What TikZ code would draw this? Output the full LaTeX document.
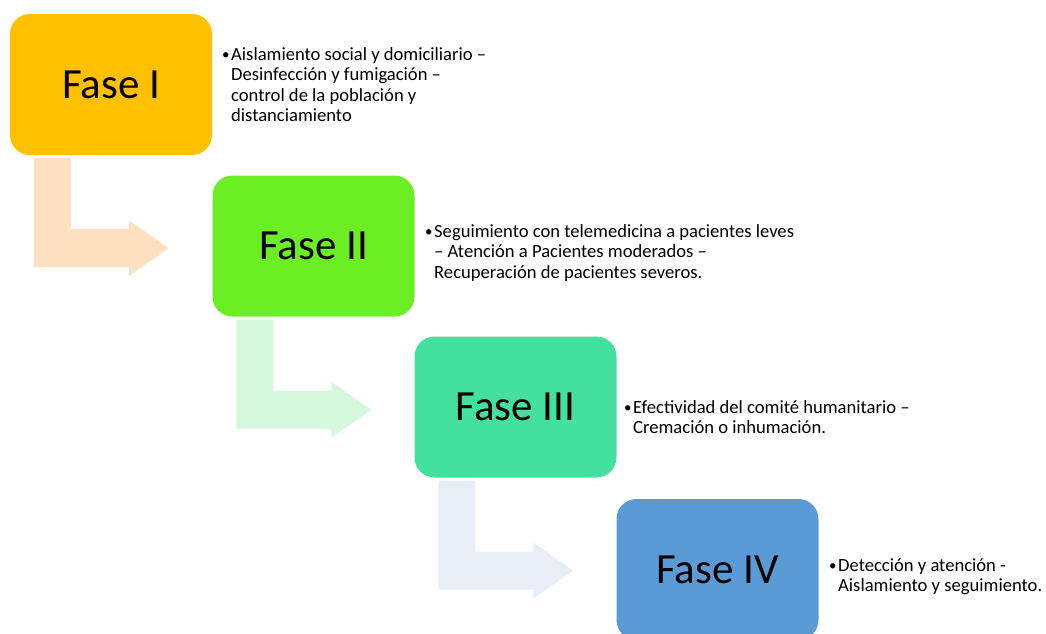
\documentclass[tikz,border=0pt]{standalone}
\usepackage{fontspec}
\setmainfont{Carlito}
\usetikzlibrary{calc}
\definecolor{cA}{HTML}{FFC000}
\definecolor{cB}{HTML}{6BEF24}
\definecolor{cC}{HTML}{43E19D}
\definecolor{cD}{HTML}{5B9BD5}
\definecolor{aA}{HTML}{FFE0C1}
\definecolor{aB}{HTML}{D5F8DC}
\definecolor{aC}{HTML}{E8EDF6}
\newcommand{\bl}{\makebox[9pt][l]{\raisebox{0.5pt}{\fontsize{15}{15}\selectfont•}}}
\newcommand{\ind}{\hspace*{9pt}}
\tikzset{
  phase/.style={rounded corners=20pt, minimum width=202pt, minimum height=141pt, inner sep=0pt,
    font=\fontsize{43}{52}\selectfont},
  desc/.style={anchor=north west, align=left, inner sep=0pt, font=\fontsize{18.6}{20.5}\selectfont}
}
\newcommand{\bentarrow}[2]{%
  \begin{scope}[shift={(#1.south west)}]
    \fill[#2] (24,3) -- (61,3) -- (61,74) -- (119,74) -- (119,65) -- (159,93) -- (119,121) -- (119,112) -- (24,112) -- cycle;
  \end{scope}}
\begin{document}
\begin{tikzpicture}[x=1pt,y=-1pt]
\useasboundingbox (0,0) rectangle (1046,634);
\clip (0,0) rectangle (1046,634);
\node[phase, fill=cA] (b1) at (111,84.5) {Fase I};
\node[phase, fill=cB] (b2) at (313.5,246) {Fase II};
\node[phase, fill=cC] (b3) at (515.5,407) {Fase III};
\node[phase, fill=cD] (b4) at (717.5,569.5) {Fase IV};
\bentarrow{b1}{aA}
\bentarrow{b2}{aB}
\bentarrow{b3}{aC}
\node[desc] (t1) at (222,47) {\bl Aislamiento social y domiciliario –\\\ind Desinfección y fumigación –\\\ind control de la población y\\\ind distanciamiento};
\node[desc] (t2) at (425,224) {\bl Seguimiento con telemedicina a pacientes leves\\\ind – Atención a Pacientes moderados –\\\ind Recuperación de pacientes severos.};
\node[desc] (t3) at (624,400) {\bl Efectividad del comité humanitario –\\\ind Cremación o inhumación.};
\node[desc] (t4) at (829,558) {\bl Detección y atención -\\\ind Aislamiento y seguimiento.};
\end{tikzpicture}
\end{document}
